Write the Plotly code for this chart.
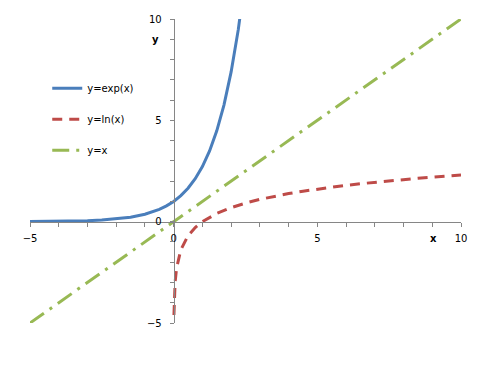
import plotly.graph_objects as go

# exp(x) samples
x_exp = [-5, -4.5, -4, -3.5, -3, -2.5, -2, -1.5, -1, -0.75, -0.5, -0.25, 0, 0.25, 0.5,
         0.75, 1, 1.25, 1.5, 1.75, 2, 2.25, 2.5]
y_exp = [0.007, 0.011, 0.018, 0.030, 0.050, 0.082, 0.135, 0.223, 0.368, 0.472, 0.607,
         0.779, 1.0, 1.284, 1.649, 2.117, 2.718, 3.490, 4.482, 5.755, 7.389, 9.488, 12.182]

# ln(x) samples
x_ln = [0.01, 0.05, 0.1, 0.25, 0.5, 0.75, 1, 1.5, 2, 2.5, 3, 3.5, 4, 4.5, 5, 5.5,
        6, 6.5, 7, 7.5, 8, 8.5, 9, 9.5, 10]
y_ln = [-4.605, -2.996, -2.303, -1.386, -0.693, -0.288, 0.0, 0.405, 0.693, 0.916,
        1.099, 1.253, 1.386, 1.504, 1.609, 1.705, 1.792, 1.872, 1.946, 2.015,
        2.079, 2.140, 2.197, 2.251, 2.303]

# y = x
x_lin = [-5, 10]
y_lin = [-5, 10]

names = ["y=exp(x)", "y=ln(x)", "y=x"]
colors = ["#4A7EBB", "#BE4B48", "#98B954"]

FONT = "DejaVu Sans"
GRAY = "#868686"

fig = go.Figure()
fig.add_trace(go.Scatter(x=x_exp, y=y_exp, mode="lines", name=names[0], legendgroup="a",
                         line=dict(color=colors[0], width=3)))
fig.add_trace(go.Scatter(x=x_ln, y=y_ln, mode="lines", name=names[1], legendgroup="b",
                         line=dict(color=colors[1], width=3, dash="10px,7px")))
fig.add_trace(go.Scatter(x=x_lin, y=y_lin, mode="lines", name=names[2], legendgroup="c",
                         line=dict(color=colors[2], width=3, dash="17px,7px,3px,7px")))

axis_common = dict(
    showgrid=False, zeroline=False, showline=True, linecolor=GRAY, linewidth=1,
    ticks="outside", ticklen=4, tickcolor=GRAY, tickwidth=1,
    tickfont=dict(family=FONT, size=10, color="black"),
    dtick=5, tick0=0,
    minor=dict(dtick=1, ticks="outside", ticklen=4, tickcolor=GRAY, tickwidth=1, showgrid=False),
    range=[-5, 10], anchor="free", position=1/3,
)

fig.update_layout(
    width=481, height=368,
    margin=dict(l=29.5, r=20, t=18.7, b=44.5),
    plot_bgcolor="white", paper_bgcolor="white",
    font=dict(family=FONT, size=10, color="black"),
    xaxis=dict(**axis_common, ticklabelstandoff=3),
    yaxis=dict(**axis_common, ticklabelstandoff=6),
    showlegend=True,
    legend=dict(x=0.04, y=0.82, xanchor="left", yanchor="top", bgcolor="rgba(0,0,0,0)",
                font=dict(family=FONT, size=10, color="black"),
                tracegroupgap=12, traceorder="grouped"),
    annotations=[
        dict(x=9.05, y=0, xref="x", yref="y", text="<b>x</b>", showarrow=False,
             yshift=-17, font=dict(family=FONT, size=10, color="black")),
        dict(x=0, y=9, xref="x", yref="y", text="<b>y</b>", showarrow=False,
             xshift=-18, font=dict(family=FONT, size=10, color="black")),
    ],
)

fig.write_html("out.html")
